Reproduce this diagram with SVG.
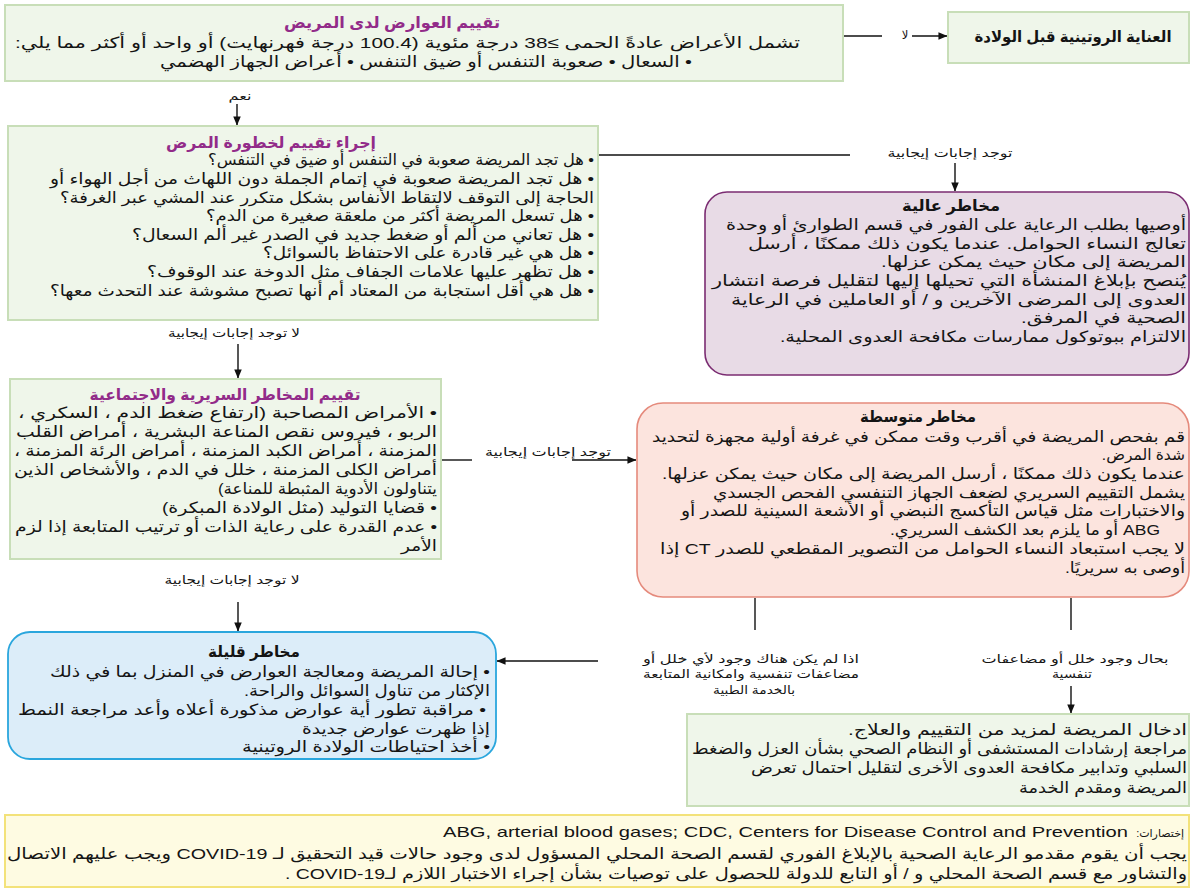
<svg xmlns="http://www.w3.org/2000/svg" width="1195" height="893" viewBox="0 0 1195 893">
<defs>
<marker id="ah" viewBox="0 0 10 10" refX="9.5" refY="5" markerWidth="11" markerHeight="9" orient="auto" markerUnits="userSpaceOnUse"><path d="M0,0.8 L10,5 L0,9.2 z" fill="#111"/></marker>
</defs>
<style>
text { font-family: "Liberation Sans", "DejaVu Sans", sans-serif; fill: #141414; }
.r { direction: rtl; text-anchor: start; font-size: 15.5px; }
.c { direction: rtl; text-anchor: middle; font-size: 15.5px; }
.t { font-weight: bold; fill: #922b89; font-size: 15.5px; }
.h { font-weight: bold; font-size: 15.5px; }
.l { direction: rtl; text-anchor: middle; font-size: 11.5px; }
.s { direction: rtl; text-anchor: start; font-size: 11px; }
.en { text-anchor: end; font-size: 15px; }
.green { fill: #eff6ea; stroke: #c8deb8; stroke-width: 2; }
.high { fill: #e8dbe6; stroke: #7b2c72; stroke-width: 1.6; }
.mid { fill: #fce4de; stroke: #e58a7c; stroke-width: 1.6; }
.low { fill: #dcedf9; stroke: #2aa6dd; stroke-width: 1.8; }
.foot { fill: #fefbe2; stroke: #f3e27a; stroke-width: 2; }
.ln { stroke: #111; stroke-width: 1.4; fill: none; }
.ar { stroke: #111; stroke-width: 1.4; fill: none; marker-end: url(#ah); }
</style>

<g id="connectors">
<line class="ln" x1="844" y1="36" x2="882" y2="36"/>
<line class="ar" x1="912" y1="36" x2="947" y2="36"/>
<line class="ar" x1="237" y1="104" x2="237" y2="125"/>
<line class="ln" x1="599" y1="155" x2="850" y2="155"/>
<line class="ar" x1="955" y1="163" x2="955" y2="191"/>
<line class="ar" x1="238" y1="344" x2="238" y2="378"/>
<line class="ln" x1="442" y1="460" x2="472" y2="460"/>
<line class="ar" x1="572" y1="460" x2="636" y2="460"/>
<line class="ln" x1="755" y1="598" x2="755" y2="630"/>
<line class="ln" x1="1071" y1="598" x2="1071" y2="630"/>
<line class="ar" x1="1071" y1="686" x2="1071" y2="713"/>
<line class="ar" x1="598" y1="661" x2="497" y2="661"/>
<line class="ar" x1="238" y1="602" x2="238" y2="631"/>
<text class="l" x="905" y="39">لا</text>
<text class="l" x="240" y="100" textLength="23" lengthAdjust="spacingAndGlyphs">نعم</text>
<text class="l" x="950" y="157" textLength="125" lengthAdjust="spacingAndGlyphs">توجد إجابات إيجابية</text>
<text class="l" x="234" y="337" textLength="132" lengthAdjust="spacingAndGlyphs">لا توجد إجابات إيجابية</text>
<text class="l" x="548" y="456" textLength="126" lengthAdjust="spacingAndGlyphs">توجد إجابات إيجابية</text>
<text class="l" x="232" y="584" textLength="135" lengthAdjust="spacingAndGlyphs">لا توجد إجابات إيجابية</text>
<text class="l" x="751" y="663" textLength="216" lengthAdjust="spacingAndGlyphs">اذا لم يكن هناك وجود لأي خلل أو</text>
<text class="l" x="751" y="678" textLength="216" lengthAdjust="spacingAndGlyphs">مضاعفات تنفسية وامكانية المتابعة</text>
<text class="l" x="754" y="694" textLength="82" lengthAdjust="spacingAndGlyphs">بالخدمة الطبية</text>
<text class="l" x="1075" y="663" textLength="187" lengthAdjust="spacingAndGlyphs">بحال وجود خلل أو مضاعفات</text>
<text class="l" x="1072" y="678" textLength="40" lengthAdjust="spacingAndGlyphs">تنفسية</text>
</g>

<g id="symptoms">
<rect class="green" x="5" y="5" width="838" height="76"/>
<text class="r t" x="500" y="28" textLength="216" lengthAdjust="spacingAndGlyphs">تقييم العوارض لدى المريض</text>
<text class="r" x="800" y="48" textLength="785" lengthAdjust="spacingAndGlyphs">تشمل الأعراض عادةً الحمى ≥38 درجة مئوية (100.4 درجة فهرنهايت) أو واحد أو أكثر مما يلي:</text>
<text class="r" x="692" y="67" textLength="532" lengthAdjust="spacingAndGlyphs">• السعال • صعوبة التنفس أو ضيق التنفس • أعراض الجهاز الهضمي</text>
</g>

<g id="routine">
<rect class="green" x="948" y="12" width="241" height="51"/>
<text class="c h" x="1073" y="42" textLength="197" lengthAdjust="spacingAndGlyphs">العناية الروتينية قبل الولادة</text>
</g>

<g id="severity">
<rect class="green" x="8" y="126" width="590" height="194"/>
<text class="r t" x="376" y="148" textLength="210" lengthAdjust="spacingAndGlyphs">إجراء تقييم لخطورة المرض</text>
<text class="r" x="594" y="165" textLength="386" lengthAdjust="spacingAndGlyphs">• هل تجد المريضة صعوبة في التنفس أو ضيق في التنفس؟</text>
<text class="r" x="594" y="184" textLength="544" lengthAdjust="spacingAndGlyphs">• هل تجد المريضة صعوبة في إتمام الجملة دون اللهاث من أجل الهواء أو</text>
<text class="r" x="594" y="203" textLength="534" lengthAdjust="spacingAndGlyphs">الحاجة إلى التوقف لالتقاط الأنفاس بشكل متكرر عند المشي عبر الغرفة؟</text>
<text class="r" x="594" y="221" textLength="388" lengthAdjust="spacingAndGlyphs">• هل تسعل المريضة أكثر من ملعقة صغيرة من الدم؟</text>
<text class="r" x="594" y="240" textLength="462" lengthAdjust="spacingAndGlyphs">• هل تعاني من ألم أو ضغط جديد في الصدر غير ألم السعال؟</text>
<text class="r" x="594" y="258" textLength="331" lengthAdjust="spacingAndGlyphs">• هل هي غير قادرة على الاحتفاظ بالسوائل؟</text>
<text class="r" x="594" y="277" textLength="447" lengthAdjust="spacingAndGlyphs">• هل تظهر عليها علامات الجفاف مثل الدوخة عند الوقوف؟</text>
<text class="r" x="594" y="296" textLength="544" lengthAdjust="spacingAndGlyphs">• هل هي أقل استجابة من المعتاد أم أنها تصبح مشوشة عند التحدث معها؟</text>
</g>

<g id="high-risk">
<rect class="high" x="705" y="192" width="484" height="183" rx="22"/>
<text class="c h" x="951" y="211" textLength="98" lengthAdjust="spacingAndGlyphs">مخاطر عالية</text>
<text class="r" x="1186" y="230" textLength="460" lengthAdjust="spacingAndGlyphs">أوصيها بطلب الرعاية على الفور في قسم الطوارئ أو وحدة</text>
<text class="r" x="1186" y="249" textLength="438" lengthAdjust="spacingAndGlyphs">تعالج النساء الحوامل. عندما يكون ذلك ممكنًا ، أرسل</text>
<text class="r" x="1186" y="267" textLength="305" lengthAdjust="spacingAndGlyphs">المريضة إلى مكان حيث يمكن عزلها.</text>
<text class="r" x="1186" y="286" textLength="474" lengthAdjust="spacingAndGlyphs">يُنصح بإبلاغ المنشأة التي تحيلها إليها  لتقليل فرصة انتشار</text>
<text class="r" x="1186" y="305" textLength="455" lengthAdjust="spacingAndGlyphs">العدوى إلى المرضى الآخرين و / أو العاملين في الرعاية</text>
<text class="r" x="1186" y="323" textLength="165" lengthAdjust="spacingAndGlyphs">الصحية في المرفق.</text>
<text class="r" x="1186" y="342" textLength="406" lengthAdjust="spacingAndGlyphs">الالتزام ببوتوكول ممارسات مكافحة العدوى المحلية.</text>
</g>

<g id="clinical-social">
<rect class="green" x="10" y="379" width="431" height="180"/>
<text class="c t" x="225" y="400" textLength="271" lengthAdjust="spacingAndGlyphs">تقييم المخاطر السريرية والاجتماعية</text>
<text class="r" x="437" y="418" textLength="419" lengthAdjust="spacingAndGlyphs">• الأمراض المصاحبة (ارتفاع ضغط الدم ، السكري ،</text>
<text class="r" x="437" y="437" textLength="421" lengthAdjust="spacingAndGlyphs">الربو ، فيروس نقص المناعة البشرية ، أمراض القلب</text>
<text class="r" x="437" y="456" textLength="423" lengthAdjust="spacingAndGlyphs">المزمنة ، أمراض الكبد المزمنة ، أمراض الرئة المزمنة ،</text>
<text class="r" x="437" y="475" textLength="423" lengthAdjust="spacingAndGlyphs">أمراض الكلى المزمنة ، خلل في الدم ، والأشخاص الذين</text>
<text class="r" x="437" y="494" textLength="219" lengthAdjust="spacingAndGlyphs">يتناولون الأدوية المثبطة للمناعة)</text>
<text class="r" x="437" y="513" textLength="275" lengthAdjust="spacingAndGlyphs">•  قضايا التوليد (مثل الولادة المبكرة)</text>
<text class="r" x="437" y="532" textLength="422" lengthAdjust="spacingAndGlyphs">• عدم القدرة على رعاية الذات أو ترتيب المتابعة إذا لزم</text>
<text class="r" x="437" y="551" textLength="36" lengthAdjust="spacingAndGlyphs">الأمر</text>
</g>

<g id="medium-risk">
<rect class="mid" x="637" y="403" width="552" height="194" rx="26"/>
<text class="c h" x="918" y="422" textLength="116" lengthAdjust="spacingAndGlyphs">مخاطر متوسطة</text>
<text class="r" x="1185" y="442" textLength="533" lengthAdjust="spacingAndGlyphs">قم بفحص المريضة في أقرب وقت ممكن في غرفة أولية مجهزة لتحديد</text>
<text class="r" x="1185" y="460">شدة المرض.</text>
<text class="r" x="1185" y="479" textLength="523" lengthAdjust="spacingAndGlyphs">عندما يكون ذلك ممكنًا ، أرسل المريضة إلى مكان حيث يمكن عزلها.</text>
<text class="r" x="1185" y="498" textLength="472" lengthAdjust="spacingAndGlyphs">يشمل التقييم السريري لضعف الجهاز التنفسي الفحص الجسدي</text>
<text class="r" x="1185" y="516" textLength="504" lengthAdjust="spacingAndGlyphs">والاختبارات مثل قياس التأكسج النبضي أو الأشعة السينية للصدر أو</text>
<text class="r" x="1160" y="535" textLength="270" lengthAdjust="spacingAndGlyphs">ABG أو ما يلزم بعد الكشف السريري.</text>
<text class="r" x="1185" y="554" textLength="525" lengthAdjust="spacingAndGlyphs">لا يجب استبعاد النساء الحوامل من التصوير المقطعي  للصدر CT إذا</text>
<text class="r" x="1185" y="573" textLength="120" lengthAdjust="spacingAndGlyphs">أوصى به سريريًا.</text>
</g>

<g id="low-risk">
<rect class="low" x="8" y="632" width="488" height="127" rx="22"/>
<text class="c h" x="254" y="657" textLength="92" lengthAdjust="spacingAndGlyphs">مخاطر قليلة</text>
<text class="r" x="490" y="677" textLength="440" lengthAdjust="spacingAndGlyphs">• إحالة المريضة ومعالجة العوارض في المنزل بما في ذلك</text>
<text class="r" x="490" y="696" textLength="246" lengthAdjust="spacingAndGlyphs">الإكثار من تناول السوائل والراحة.</text>
<text class="r" x="486" y="715" textLength="468" lengthAdjust="spacingAndGlyphs">• مراقبة تطور أية عوارض مذكورة أعلاه وأعد مراجعة النمط</text>
<text class="r" x="490" y="734" textLength="188" lengthAdjust="spacingAndGlyphs">إذا ظهرت عوارض جديدة</text>
<text class="r" x="490" y="752" textLength="248" lengthAdjust="spacingAndGlyphs">• أخذ احتياطات الولادة الروتينية</text>
</g>

<g id="admit">
<rect class="green" x="687" y="714" width="502" height="92"/>
<text class="r" x="1187" y="735" textLength="339" lengthAdjust="spacingAndGlyphs">ادخال المريضة لمزيد من التقييم والعلاج.</text>
<text class="r" x="1187" y="754" textLength="495" lengthAdjust="spacingAndGlyphs">مراجعة إرشادات المستشفى أو النظام الصحي بشأن العزل والضغط</text>
<text class="r" x="1187" y="773" textLength="436" lengthAdjust="spacingAndGlyphs">السلبي وتدابير مكافحة العدوى الأخرى لتقليل احتمال تعرض</text>
<text class="r" x="1187" y="793" textLength="168" lengthAdjust="spacingAndGlyphs">المريضة ومقدم الخدمة</text>
</g>

<g id="footnote">
<rect class="foot" x="5" y="815" width="1184" height="72"/>
<text class="s" x="1184" y="837">إختصارات:</text>
<text class="en" x="1128" y="837" textLength="685" lengthAdjust="spacingAndGlyphs">ABG, arterial blood gases; CDC, Centers for Disease Control and Prevention</text>
<text class="r" x="1187" y="859" textLength="1180" lengthAdjust="spacingAndGlyphs">يجب أن يقوم مقدمو الرعاية الصحية بالإبلاغ الفوري لقسم الصحة المحلي المسؤول لدى وجود حالات قيد التحقيق  لـ COVID-19 ويجب عليهم الاتصال</text>
<text class="r" x="1187" y="879" textLength="902" lengthAdjust="spacingAndGlyphs">والتشاور مع قسم الصحة المحلي و / أو التابع للدولة للحصول على توصيات بشأن إجراء الاختبار اللازم لـCOVID-19 .</text>
</g>
</svg>
